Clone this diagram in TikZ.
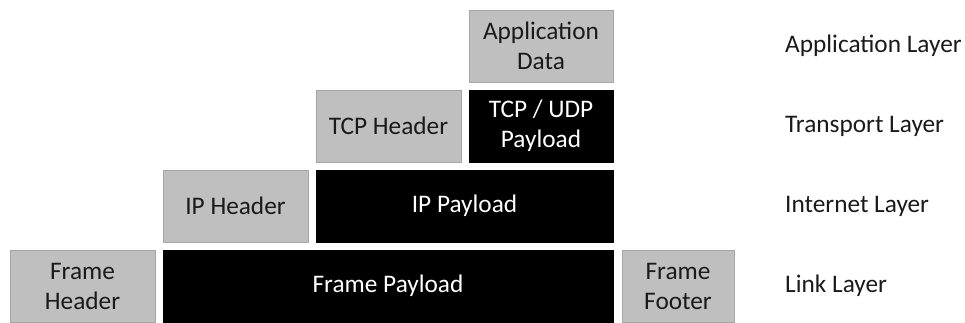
\documentclass[tikz,border=0pt]{standalone}
\usepackage{fontspec}
\setmainfont{Carlito}
\definecolor{hdrgray}{HTML}{BFBFBF}
\definecolor{hdredge}{HTML}{A6A6A6}
\definecolor{ink}{HTML}{1A1A1A}
\begin{document}
\begin{tikzpicture}[x=1pt,y=1pt,
  layerbox/.style={minimum height=72pt, inner sep=0pt, align=center,
    font=\fontsize{25.3}{30}\selectfont},
  hdrbox/.style={layerbox, fill=hdrgray, draw=hdredge, line width=0.6pt, text=ink},
  paybox/.style={layerbox, fill=black, draw=black, text=white},
  layername/.style={anchor=west, inner sep=0pt, text=ink,
    font=\fontsize{25.3}{30}\selectfont}]
\useasboundingbox (0,0) rectangle (965,322);

% application layer
\node[hdrbox, minimum width=144pt] (app) at (541,276) {Application\\Data};
% transport layer
\node[hdrbox, minimum width=145pt] (tcph) at (388.5,196) {TCP Header};
\node[paybox, minimum width=144pt] (tcpp) at (541,196) {TCP / UDP\\Payload};
% internet layer
\node[hdrbox, minimum width=145pt] (iph) at (235.5,116) {IP Header};
\node[paybox, minimum width=297pt] (ipp) at (464.5,116) {IP Payload};
% link layer
\node[hdrbox, minimum width=145pt] (fh) at (82.5,36) {Frame\\Header};
\node[paybox, minimum width=450pt] (fp) at (388,36) {Frame Payload};
\node[hdrbox, minimum width=112pt] (ff) at (678,36) {Frame\\Footer};

% layer names
\node[layername] (lapp) at (785,276) {Application Layer};
\node[layername] (ltr) at (785,196) {Transport Layer};
\node[layername] (lin) at (785,116) {Internet Layer};
\node[layername] (llk) at (785,36) {Link Layer};
\end{tikzpicture}
\end{document}
